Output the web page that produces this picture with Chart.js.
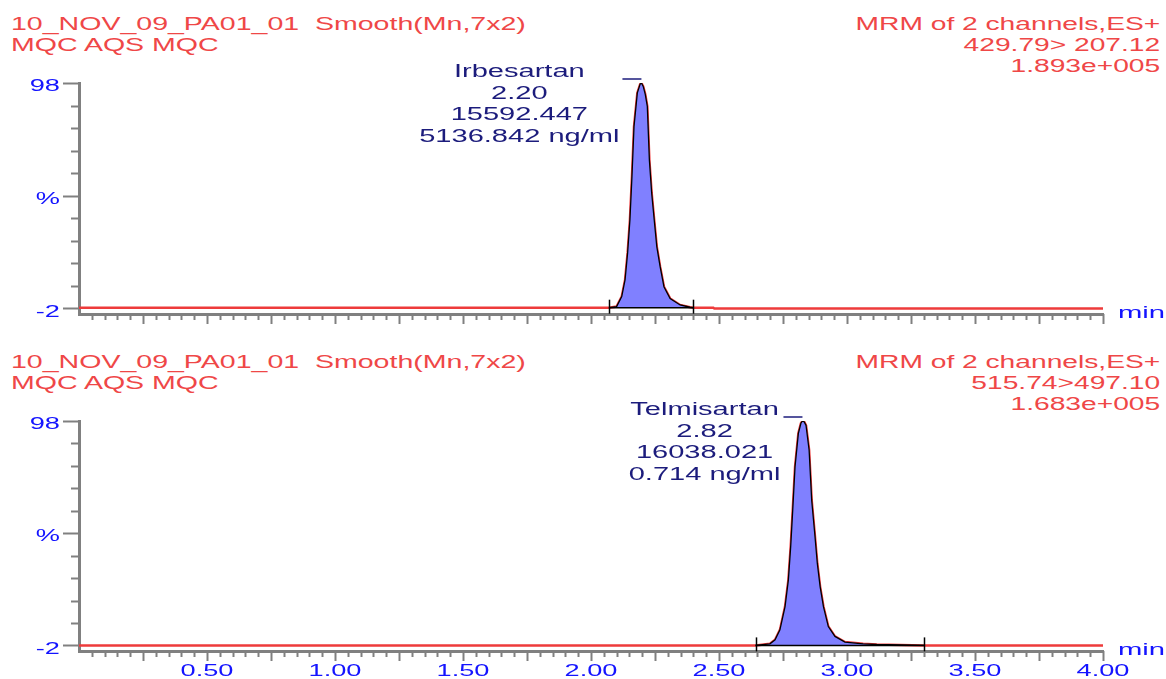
<!DOCTYPE html>
<html>
<head>
<meta charset="utf-8">
<script src="https://cdn.jsdelivr.net/npm/chart.js@4.4.1/dist/chart.umd.min.js"></script>
<style>
  body { margin: 0; background: #fff; width: 1166px; height: 679px; overflow: hidden; position: relative;
         font-family: "Liberation Sans", Arial, sans-serif; }
  canvas { position: absolute; left: 0; }
  .hd { position: absolute; font-size: 17.5px; line-height: 21px; color: #ef4747; white-space: pre; }
  .hl { left: 11px; transform: scaleX(1.63); transform-origin: left top; }
  .hr { right: 6px; text-align: right; transform: scaleX(1.61); transform-origin: right top; }
</style>
</head>
<body>
<div class="hd hl" style="top:14.4px">10_NOV_09_PA01_01  Smooth(Mn,7x2)
MQC AQS MQC</div>
<div class="hd hr" style="top:14.4px">MRM of 2 channels,ES+
429.79&gt; 207.12
1.893e+005</div>
<div class="hd hl" style="top:352.4px">10_NOV_09_PA01_01  Smooth(Mn,7x2)
MQC AQS MQC</div>
<div class="hd hr" style="top:352.4px">MRM of 2 channels,ES+
515.74&gt;497.10
1.683e+005</div>

<canvas id="top" width="1166" height="340" style="top:0"></canvas>
<canvas id="bottom" width="1166" height="339" style="top:340px"></canvas>

<script>
// retention time (min) / relative intensity (%)
const irbTime = [0.00, 2.07, 2.10, 2.12, 2.133, 2.143, 2.152, 2.160, 2.168, 2.181, 2.192, 2.197, 2.204,
  2.212, 2.220, 2.228, 2.237, 2.247, 2.257, 2.270, 2.285, 2.309, 2.348, 2.387, 2.40, 2.478, 2.482, 4.00];
const irbPct = [-1.7, -1.7, -1.2, 3.2, 10.6, 22.6, 37.2, 56.5, 78.7, 93.6, 97.5, 98.0, 96.5,
  93.0, 87.6, 63.9, 49.2, 37.2, 25.4, 16.5, 7.6, 2.4, -0.5, -1.5, -1.7, -1.7, -2.1, -2.1];

const telTime = [0.00, 2.643, 2.699, 2.719, 2.738, 2.758, 2.771, 2.780, 2.788, 2.797, 2.810, 2.820, 2.826,
  2.833, 2.840, 2.852, 2.862, 2.875, 2.884, 2.895, 2.908, 2.927, 2.953, 2.992, 3.063, 3.116, 3.302, 4.00];
const telPct = [-2.0, -2.0, -1.3, 0.5, 4.9, 15.3, 27.2, 42.0, 58.4, 77.6, 92.5, 97.0, 98.0,
  97.6, 96.0, 85.1, 62.8, 46.5, 34.6, 24.2, 15.3, 6.4, 2.0, -0.5, -1.3, -1.6, -2.0, -2.0];

// peak annotations
const peakNames = ['Irbesartan', 'Telmisartan'];
const peakRT = ['2.20', '2.82'];
const peakArea = ['15592.447', '16038.021'];
const peakConc = ['5136.842 ng/ml', '0.714 ng/ml'];
const intStart = [2.07, 2.643];
const intEnd = [2.40, 3.302];
const intBase = [-1.7, -2.0];

// axes
const xTickValues = [0.5, 1.0, 1.5, 2.0, 2.5, 3.0, 3.5, 4.0];
const xTickLabels = ['0.50', '1.00', '1.50', '2.00', '2.50', '3.00', '3.50', '4.00'];
const yTickValues = [98, 48, -2];
const yTickLabels = ['98', '%', '-2'];

const SX = 1.6;               // the source render is stretched horizontally
const SX_PEAK = 1.66;
const FONT = '17px "Liberation Sans", Arial, sans-serif';
const PEAK_FONT = '17.5px "Liberation Sans", Arial, sans-serif';
const BLUE = '#1414ff';
const NAVY = '#1c1c7c';
const GREY = '#808080';

function wideText(ctx, text, x, y, align, sx) {
  ctx.save();
  ctx.translate(x, y);
  ctx.scale(sx || SX, 1);
  ctx.textAlign = align;
  ctx.fillText(text, 0, 0);
  ctx.restore();
}

const msDecor = {
  id: 'msDecor',
  afterDraw(chart, args, opts) {
    const { ctx, chartArea: a } = chart;
    const xs = chart.scales.x, ys = chart.scales.y;
    const p = opts.peak;
    ctx.save();

    // x ticks: minor every 0.05, major every 0.25
    ctx.strokeStyle = GREY;
    ctx.lineWidth = 2;
    for (let i = 1; i <= 80; i++) {
      const px = Math.round(xs.getPixelForValue(i * 0.05)) + 0.5;
      const len = i % 5 === 0 ? 10 : 6;
      ctx.beginPath();
      ctx.moveTo(px, a.bottom);
      ctx.lineTo(px, a.bottom + len);
      ctx.stroke();
    }
    // y ticks every 10 %
    for (let v = -2; v <= 98; v += 10) {
      const py = Math.round(ys.getPixelForValue(v)) + 0.5;
      const len = yTickValues.includes(v) ? 16 : 8;
      ctx.beginPath();
      ctx.moveTo(a.left - len, py);
      ctx.lineTo(a.left, py);
      ctx.stroke();
    }

    ctx.font = FONT;
    ctx.fillStyle = BLUE;
    ctx.textBaseline = 'middle';
    yTickValues.forEach((v, i) => {
      wideText(ctx, yTickLabels[i], 60, ys.getPixelForValue(v) + 3.5, 'right');
    });
    if (opts.xLabels) {
      xTickValues.forEach((v, i) => {
        wideText(ctx, xTickLabels[i], xs.getPixelForValue(v), a.bottom + 20.5, 'center');
      });
    }
    ctx.textBaseline = 'alphabetic';
    wideText(ctx, 'min', a.right + 15, a.bottom + 4, 'left', 1.72);

    // integration markers
    ctx.strokeStyle = '#000';
    ctx.lineWidth = 1.5;
    const by = ys.getPixelForValue(intBase[p]);
    [intStart[p], intEnd[p]].forEach(t => {
      const px = Math.round(xs.getPixelForValue(t)) + 0.5;
      ctx.beginPath();
      ctx.moveTo(px, by - 8);
      ctx.lineTo(px, by + 6);
      ctx.stroke();
    });

    // peak label block, right edge a little left of the apex
    const times = p === 0 ? irbTime : telTime;
    const pct = p === 0 ? irbPct : telPct;
    const k = pct.indexOf(Math.max(...pct));
    const ax = xs.getPixelForValue(times[k]);
    const ay = ys.getPixelForValue(pct[k]);
    const lines = [peakNames[p], peakRT[p], peakArea[p], peakConc[p]];
    ctx.font = PEAK_FONT;
    const maxW = Math.max(...lines.map(t => ctx.measureText(t).width)) * SX_PEAK;
    const cx = ax - 22 - maxW / 2;
    ctx.fillStyle = NAVY;
    ctx.textBaseline = 'middle';
    lines.forEach((t, i) => wideText(ctx, t, cx, ay - 11 + i * 21.7, 'center', SX_PEAK));
    ctx.strokeStyle = NAVY;
    ctx.lineWidth = 1.5;
    ctx.beginPath();
    ctx.moveTo(ax - 19, ay - 4);
    ctx.lineTo(ax, ay - 4);
    ctx.stroke();

    ctx.restore();
  }
};

function buildChart(id, p, times, pct, axisH, padTop) {
  const trace = times.map((t, i) => ({ x: t, y: pct[i] }));
  const peak = trace.filter(d => d.x >= intStart[p] && d.x <= intEnd[p]);
  const base = [{ x: intStart[p], y: intBase[p] }, { x: intEnd[p], y: intBase[p] }];

  return new Chart(document.getElementById(id), {
    type: 'line',
    data: {
      datasets: [
        { data: trace, borderColor: '#ee3b3b', borderWidth: 2.5, order: 3 },
        { data: peak, borderColor: '#000', borderWidth: 1.3, backgroundColor: '#8080ff',
          fill: { value: intBase[p] }, order: 2 },
        { data: base, borderColor: '#000', borderWidth: 1.5, order: 1 },
      ],
    },
    options: {
      responsive: false,
      animation: false,
      elements: { point: { radius: 0 }, line: { tension: 0 } },
      layout: { padding: { top: padTop, right: 63, left: 0, bottom: 0 } },
      plugins: {
        legend: { display: false },
        tooltip: { enabled: false },
        msDecor: { peak: p, xLabels: p === 1 },
      },
      scales: {
        x: {
          type: 'linear', min: 0, max: 4,
          ticks: { display: false },
          grid: { display: true, drawOnChartArea: false, drawTicks: false },
          border: { display: true, color: GREY, width: 3 },
          afterFit: s => { s.height = axisH; },
        },
        y: {
          min: -4.5, max: 98,
          ticks: { display: false },
          grid: { display: true, drawOnChartArea: false, drawTicks: false },
          border: { display: true, color: GREY, width: 3 },
          afterFit: s => { s.width = 79; },
        },
      },
    },
    plugins: [msDecor],
  });
}

buildChart('top', 0, irbTime, irbPct, 26, 83);
buildChart('bottom', 1, telTime, telPct, 28, 81);
</script>
</body>
</html>
